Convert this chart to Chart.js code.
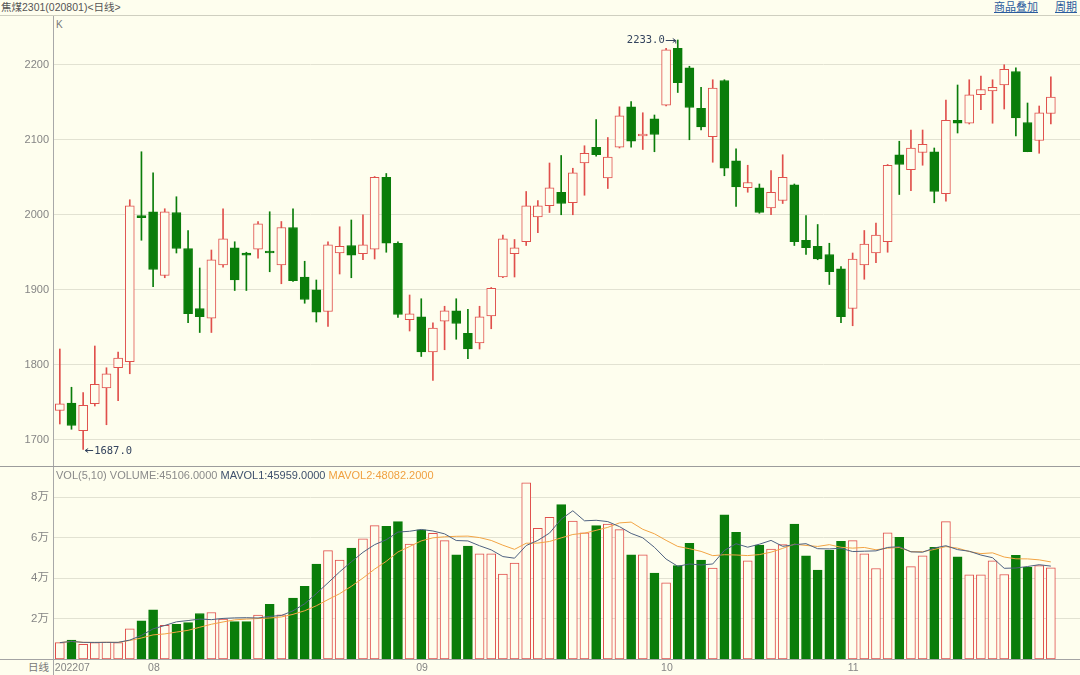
<!DOCTYPE html>
<html><head><meta charset="utf-8">
<script src="https://cdn.jsdelivr.net/npm/chart.js@4.4.1/dist/chart.umd.min.js"></script>
<style>
html,body{margin:0;padding:0;background:#FEFEEE;width:1080px;height:675px;overflow:hidden;
  font-family:"Liberation Sans",Arial,"Noto Sans CJK SC",sans-serif;}
.abs{position:absolute;white-space:nowrap;}
.line{position:absolute;z-index:5;}
#title{left:1px;top:0px;font-size:10.5px;color:#555;line-height:14px;}
.lnk{top:0px;font-size:11px;color:#2B5C9E;text-decoration:underline;line-height:14px;}
#klab{left:56px;top:19px;font-size:10px;color:#777;}
#voltitle{left:56px;top:469px;font-size:11px;line-height:13px;z-index:6;}
#rixian{left:28px;top:660px;font-size:10.5px;color:#777;line-height:14px;}
canvas{position:absolute;left:0;}
</style></head>
<body>
<div id="title" class="abs">焦煤2301(020801)&lt;日线&gt;</div>
<div class="abs lnk" style="left:994px;">商品叠加</div>
<div class="abs lnk" style="left:1055px;">周期</div>
<div id="klab" class="abs">K</div>
<div id="voltitle" class="abs"><span style="color:#8a8a8a">VOL(5,10) VOLUME:45106.0000</span>&nbsp;<span style="color:#3E506C">MAVOL1:45959.0000</span>&nbsp;<span style="color:#F0A040">MAVOL2:48082.2000</span></div>
<div id="rixian" class="abs">日线</div>

<div class="line" style="left:0;top:15px;width:1080px;height:1px;background:#cfcfc0"></div>
<div class="line" style="left:53px;top:16px;width:1px;height:659px;background:#a8a8a8"></div>
<div class="line" style="left:0;top:466px;width:1080px;height:1px;background:#9c9c9c"></div>
<div class="line" style="left:0;top:659px;width:1080px;height:1px;background:#a4a4a4"></div>

<canvas id="price" width="1080" height="450" style="top:16px"></canvas>
<canvas id="vol" width="1080" height="208" style="top:467px"></canvas>

<script>
// ---- data ----
const julDays = [20,21,22,25,26,27,28,29];
const augDays = [1,2,3,4,5,8,9,10,11,12,15,16,17,18,19,22,23,24,25,26,29,30,31];
const sepDays = [1,2,5,6,7,8,9,13,14,15,16,19,20,21,22,23,26,27,28,29,30];
const octDays = [10,11,12,13,14,17,18,19,20,21,24,25,26,27,28,31];
const novDays = [1,2,3,4,7,8,9,10,11,14,15,16,17,18,21,22,23,24];

const open  = [1739,1749,1712,1748,1769,1796,1804,1999,2004,1919,2003,1955,1875,1862,1933,1956,1949,1954,1951,1933,
               1983,1917,1900,1871,1949,1959,1948,1954,2050,1962,1860,1864,1817,1858,1872,1842,1829,1865,1917,1948,
               1964,1997,2012,2030,2016,2069,2090,2049,2090,2144,2105,2128,2146,2222,2196,2142,2104,2179,2072,2036,
               2036,2009,2019,2040,1966,1958,1947,1928,1875,1933,1949,1964,2080,2060,2083,2084,2028,2126,2122,2160,
               2165,2173,2191,2123,2099,2135];
const high  = [1821,1770,1763,1825,1796,1817,2020,2084,2056,2008,2024,1979,1929,1953,2008,1964,1950,1991,2004,1991,
               2008,1938,1913,1964,1984,1993,2000,2051,2055,1964,1893,1888,1856,1878,1888,1874,1878,1903,1973,1967,
               2031,2019,2069,2079,2062,2092,2127,2103,2144,2151,2136,2133,2222,2233,2198,2170,2180,2180,2088,2066,
               2041,2059,2080,2041,1999,1987,1962,1931,1949,1979,1989,2067,2098,2113,2113,2089,2153,2173,2180,2185,
               2180,2200,2196,2149,2145,2184];
const low   = [1721,1714,1687,1745,1720,1752,1788,1966,1904,1916,1949,1856,1843,1843,1930,1899,1899,1942,1924,1908,
               1911,1882,1857,1851,1921,1916,1940,1941,1950,1863,1845,1811,1779,1820,1834,1808,1821,1848,1916,1917,
               1959,1976,2003,2000,2000,2026,2078,2035,2089,2090,2087,2084,2145,2163,2100,2113,2070,2052,2011,2030,
               2002,2000,2015,1959,1947,1940,1907,1856,1852,1914,1936,1950,2027,2032,2066,2016,2018,2109,2121,2140,
               2122,2141,2105,2084,2082,2121];
const close = [1748,1719,1746,1774,1788,1809,2012,1996,1927,2004,1955,1868,1864,1940,1968,1913,1946,1988,1949,1983,
               1912,1887,1870,1960,1958,1946,1960,2050,1962,1867,1868,1817,1849,1872,1855,1821,1864,1902,1968,1956,
               2012,2012,2036,2015,2056,2082,2080,2077,2132,2098,2106,2107,2220,2176,2143,2117,2169,2062,2037,2043,
               2003,2030,2050,1964,1956,1941,1924,1864,1941,1961,1973,2066,2067,2089,2094,2031,2126,2122,2160,2167,
               2170,2194,2129,2084,2136,2157];
const volume = [8100,9300,7300,8100,8400,8100,14900,18900,24300,16700,17200,18000,22500,23000,19700,18500,18500,21700,27100,21800,
                30100,35900,47000,53600,49000,54900,59400,66000,65700,68000,56900,63900,62200,58600,51500,55900,52000,52000,42000,47500,
                87200,64700,70100,76400,68300,62400,66000,66800,64000,51500,51500,42500,37700,46200,57200,49000,45000,71300,62700,48600,
                56400,54400,56600,66800,51100,44000,53900,58200,58600,52000,44800,62400,60200,45700,51100,55200,68000,50600,41700,41700,
                48600,41800,51300,45400,46200,45106];
const priceTicks = [1700,1800,1900,2000,2100,2200];
const volTicks = [20000,40000,60000,80000];

// ---- derived ----
const pad2 = d => String(d).padStart(2,'0');
const dates = [].concat(
  julDays.map(d=>'2022-07-'+pad2(d)), augDays.map(d=>'2022-08-'+pad2(d)),
  sepDays.map(d=>'2022-09-'+pad2(d)), octDays.map(d=>'2022-10-'+pad2(d)),
  novDays.map(d=>'2022-11-'+pad2(d)));
const slots = dates.concat(['','']);
const monthLabel = {};
dates.forEach((d,i)=>{
  const m = d.slice(5,7);
  if (i===0) monthLabel[i] = d.slice(0,4)+m;
  else if (dates[i-1].slice(5,7)!==m) monthLabel[i] = m;
});
function movingAvg(arr,n){
  return arr.map((_,i)=>{const s=arr.slice(Math.max(0,i-n+1),i+1);return s.reduce((a,b)=>a+b,0)/s.length;});
}
const ma5 = movingAvg(volume,5), ma10 = movingAvg(volume,10);

const BG='#FEFEEE', RED='#E0504C', GREEN='#0A7D0A', GRID='#E2E2D2', TICK='#858585';
const up = close.map((c,i)=>c>=open[i]);
const FONT = '"Liberation Sans", Arial, "Noto Sans CJK SC", sans-serif';
const fitY = s => { s.width = 54; s.paddingTop = 0; s.paddingBottom = 0; };

const extrema = {
  id:'extrema',
  afterDatasetsDraw(chart){
    const {ctx, scales:{x,y}} = chart;
    const hi = Math.max(...high), hiIdx = high.indexOf(hi);
    const lo = Math.min(...low), loIdx = low.indexOf(lo);
    ctx.save();
    ctx.font = '10.5px "DejaVu Sans Mono", monospace';
    ctx.fillStyle = '#34445E'; ctx.strokeStyle = '#34445E'; ctx.lineWidth = 1;
    // low marker
    let px = x.getPixelForValue(loIdx), py = Math.round(y.getPixelForValue(lo))+0.5;
    ctx.beginPath(); ctx.moveTo(px+2,py); ctx.lineTo(px+10,py); ctx.stroke();
    ctx.beginPath(); ctx.moveTo(px+2,py); ctx.lineTo(px+5,py-2); ctx.moveTo(px+2,py); ctx.lineTo(px+5,py+2); ctx.stroke();
    ctx.textAlign='left'; ctx.textBaseline='middle';
    ctx.fillText(lo.toFixed(1), px+11, py+1);
    // high marker
    px = x.getPixelForValue(hiIdx); py = Math.round(y.getPixelForValue(hi))+0.5;
    ctx.beginPath(); ctx.moveTo(px-12,py); ctx.lineTo(px-2,py); ctx.lineTo(px-2,py+3); ctx.stroke();
    ctx.beginPath(); ctx.moveTo(px-5,py-2); ctx.lineTo(px-2,py); ctx.lineTo(px-5,py+2); ctx.stroke();
    ctx.textAlign='right';
    ctx.fillText(hi.toFixed(1), px-13, py);
    ctx.restore();
  }
};

new Chart(document.getElementById('price'), {
  type:'bar',
  data:{
    labels: slots,
    datasets:[
      {label:'wick', data: low.map((l,i)=>[l,high[i]]), backgroundColor: up.map(u=>u?RED:GREEN),
       borderWidth:0, barThickness:1, grouped:false, order:2},
      {label:'body', data: open.map((o,i)=>[o,close[i]]), backgroundColor: up.map(u=>u?BG:GREEN),
       borderColor: up.map(u=>u?RED:GREEN), borderWidth:1, borderSkipped:false, barThickness:9,
       minBarLength:2, grouped:false, order:1}
    ]
  },
  options:{
    responsive:false, animation:false, devicePixelRatio:1,
    layout:{padding:0, autoPadding:false},
    plugins:{legend:{display:false}, tooltip:{enabled:false}},
    scales:{
      x:{type:'category', offset:true, display:false, grid:{display:false}},
      y:{min:1665, max:2265, position:'left',
         afterFit:fitY,
         afterBuildTicks:s=>{s.ticks=priceTicks.map(v=>({value:v}));},
         grid:{color:GRID, drawTicks:false},
         border:{display:false},
         ticks:{color:TICK, padding:5, font:{size:11, family:FONT}, callback:v=>String(v)}}
    }
  },
  plugins:[extrema]
});

new Chart(document.getElementById('vol'), {
  type:'bar',
  data:{
    labels: slots,
    datasets:[
      {type:'line', label:'MAVOL1', data: ma5, borderColor:'#4E6180', borderWidth:1, pointRadius:0, tension:0, order:0},
      {type:'line', label:'MAVOL2', data: ma10, borderColor:'#F2A444', borderWidth:1, pointRadius:0, tension:0, order:1},
      {type:'bar', label:'VOLUME', data: volume, backgroundColor: up.map(u=>u?BG:GREEN),
       borderColor: up.map(u=>u?RED:GREEN), borderWidth:1, borderSkipped:false, barThickness:9, grouped:false, order:2}
    ]
  },
  options:{
    responsive:false, animation:false, devicePixelRatio:1,
    layout:{padding:0, autoPadding:false},
    plugins:{legend:{display:false}, tooltip:{enabled:false}},
    scales:{
      x:{type:'category', offset:true,
         afterFit:s=>{s.height=16;},
         grid:{display:false, drawTicks:false},
         border:{display:false},
         ticks:{autoSkip:false, maxRotation:0, minRotation:0, align:'start', labelOffset:-5, padding:3,
                color:TICK, font:{size:10.5, family:FONT},
                callback:(v,i)=> (monthLabel[i]!==undefined ? monthLabel[i] : null)}},
      y:{min:0, max:95000, position:'left',
         afterFit:fitY,
         afterBuildTicks:s=>{s.ticks=volTicks.map(v=>({value:v}));},
         grid:{color:GRID, drawTicks:false},
         border:{display:false},
         ticks:{color:TICK, padding:5, font:{size:11.5, family:FONT}, callback:v=>(v/10000)+'万'}}
    }
  }
});
</script>
</body></html>
